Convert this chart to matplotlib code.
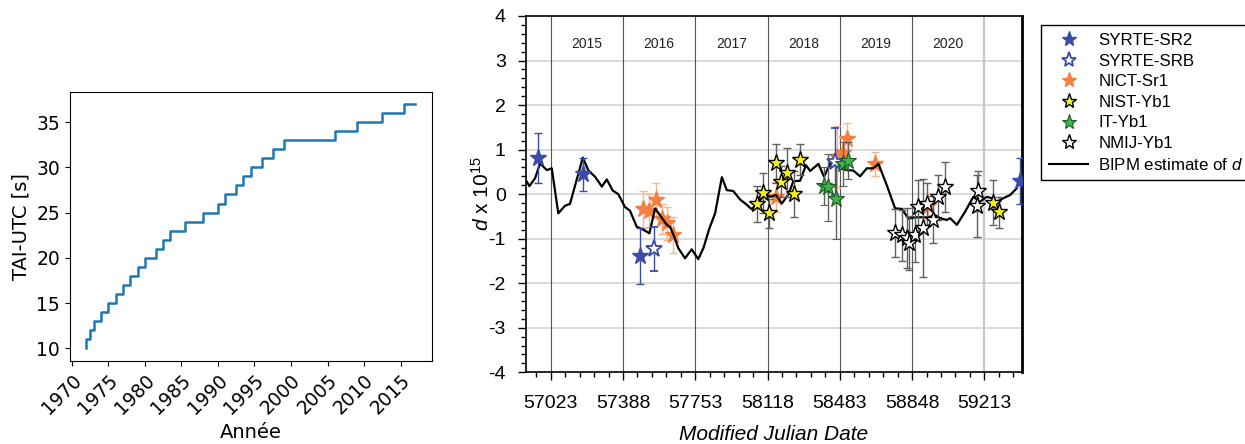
import numpy as np
import matplotlib.pyplot as plt
from matplotlib.lines import Line2D
from matplotlib.ticker import FixedLocator, MultipleLocator

# --- left panel: TAI-UTC leap seconds ---
leap_year = [1972.0, 1972.5, 1973.0, 1974.0, 1975.0, 1976.0, 1977.0, 1978.0, 1979.0,
             1980.0, 1981.5, 1982.5, 1983.5, 1985.5, 1988.0, 1990.0, 1991.0, 1992.5,
             1993.5, 1994.5, 1996.0, 1997.5, 1999.0, 2006.0, 2009.0, 2012.5, 2015.5, 2017.0]
tai_utc = list(range(10, 38))

# --- right panel: d x 1e15 vs MJD ---
mjd_ticks = [57023, 57388, 57753, 58118, 58483, 58848, 59213]
year_names = ['2015', '2016', '2017', '2018', '2019', '2020']

bipm_mjd = [56902, 56915, 56944, 56969, 57003, 57028, 57061, 57095, 57120, 57185, 57213,
            57247, 57281, 57306, 57336, 57364, 57398, 57423, 57457, 57491, 57521, 57550,
            57579, 57609, 57626, 57646, 57667, 57701, 57735, 57768, 57794, 57824, 57853,
            57887, 57912, 57945, 57979, 58013, 58038, 58072, 58105, 58131, 58161, 58190,
            58223, 58248, 58282, 58312, 58333, 58375, 58403, 58437, 58459, 58484, 58518,
            58551, 58585, 58619, 58652, 58678, 58720, 58762, 58796, 58829, 58863, 58930,
            58964, 58989, 59023, 59040, 59074, 59116, 59157, 59191, 59225, 59250, 59276,
            59309, 59343, 59376]
bipm_d = [0.28, 0.18, 0.36, 0.69, 0.54, 0.58, -0.43, -0.26, -0.22, 0.82, 0.53,
          0.39, 0.17, 0.33, 0.08, 0.0, -0.29, -0.37, -0.73, -0.80, -0.88, -0.32,
          -0.50, -0.69, -0.74, -0.95, -1.21, -1.44, -1.24, -1.46, -1.21, -0.77, -0.43,
          0.38, 0.09, 0.07, -0.12, -0.24, -0.34, -0.18, 0.0, -0.06, -0.02, -0.21,
          -0.01, 0.29, 0.30, 0.65, 0.52, 0.68, 0.39, 0.71, 0.80, 0.58, 0.54,
          0.53, 0.40, 0.58, 0.58, 0.68, 0.20, -0.32, -0.33, -0.55, -0.52, -0.52,
          -0.47, -0.54, -0.58, -0.54, -0.69, -0.39, -0.06, -0.17, -0.06, -0.09, -0.17,
          -0.09, -0.02, 0.13]

sr2_mjd = [56960, 57188, 57474, 59393]
sr2_d = [0.81, 0.45, -1.39, 0.30]
sr2_err = [0.57, 0.37, 0.62, 0.52]

srb_mjd = [57546, 58459]
srb_d = [-1.23, 0.73]
srb_err = [0.49, 0.75]

nict_mjd = [57488, 57519, 57553, 57584, 57609, 57642, 58159, 58467, 58498, 58518, 58661, 58929]
nict_d = [-0.34, -0.37, -0.13, -0.56, -0.65, -0.92, -0.06, 0.84, 0.92, 1.23, 0.68, -0.27]
nict_err = [0.42, 0.37, 0.39, 0.33, 0.37, 0.40, 0.33, 0.70, 0.35, 0.36, 0.27, 0.30]

nist_mjd = [58066, 58097, 58127, 58159, 58186, 58218, 58252, 58282, 59258, 59287]
nist_d = [-0.22, 0.02, -0.43, 0.69, 0.28, 0.48, 0.0, 0.77, -0.19, -0.41]
nist_err = [0.40, 0.45, 0.33, 0.44, 0.35, 0.55, 0.52, 0.35, 0.50, 0.34]

it_mjd = [58403, 58425, 58464, 58501, 58526]
it_d = [0.18, 0.15, -0.11, 0.68, 0.75]
it_err = [0.43, 0.75, 0.90, 0.50, 0.42]

nmij_mjd = [58762, 58796, 58824, 58834, 58863, 58880, 58902, 58925, 58952, 58980, 59014, 59174, 59182]
nmij_d = [-0.87, -0.92, -0.99, -1.10, -0.92, -0.28, -0.76, -0.22, -0.57, -0.07, 0.17, -0.27, 0.07]
nmij_err = [0.54, 0.57, 0.67, 0.60, 0.60, 0.60, 1.10, 0.48, 0.52, 0.50, 0.56, 0.70, 0.45]

plt.rcParams['mathtext.fontset'] = 'custom'
plt.rcParams['mathtext.rm'] = 'Liberation Sans'
plt.rcParams['mathtext.it'] = 'Liberation Sans:italic'

fig = plt.figure(figsize=(12.45, 4.44), dpi=100)

# left panel
ax1 = fig.add_axes([0.0562, 0.1876, 0.2905, 0.6059])
ax1.plot(leap_year, tai_utc, drawstyle='steps-pre', color='#1f77b4', linewidth=1.8)
ax1.set_xticks(np.arange(1970, 2016, 5))
ax1.set_yticks([10, 15, 20, 25, 30, 35])
ax1.tick_params(labelsize=13.5)
for lab in ax1.get_xticklabels():
    lab.set_rotation(45)
    lab.set_ha('right')
    lab.set_rotation_mode('anchor')
ax1.set_xlabel('Année', fontsize=14)
ax1.set_ylabel('TAI-UTC [s]', fontsize=14)

# right panel (plain hyphen minus like the original figure)
plt.rcParams['axes.unicode_minus'] = False
ax2 = fig.add_axes([0.4225, 0.1615, 0.3984, 0.8025])
ax2.set_xlim(56898, 59403)
ax2.set_ylim(-4, 4)

for y in range(-3, 4):
    ax2.axhline(y, color='#d9d9d9', linewidth=1.4, zorder=0)
for t in mjd_ticks[:-1]:
    ax2.axvline(t, color='#555555', linewidth=0.8, zorder=0.5)
ax2.axvline(mjd_ticks[-1], color='#c8c8c8', linewidth=1.6, zorder=0.5)

for i, name in enumerate(year_names):
    ax2.text((mjd_ticks[i] + mjd_ticks[i + 1]) / 2, 3.36, name, ha='center', va='center',
             fontsize=10, family='Liberation Sans', color='#222222')

blue = '#3b4ba8'
orange = '#f47f40'
ecol = '#606060'
ms = 12.5

ax2.plot(bipm_mjd, bipm_d, color='black', linewidth=1.6, zorder=3)

series = [
    (sr2_mjd, sr2_d, sr2_err, dict(mfc=blue, mec=blue, mew=1), blue, 4, 'SYRTE-SR2'),
    (srb_mjd, srb_d, srb_err, dict(mfc='white', mec=blue, mew=1.3), blue, 4, 'SYRTE-SRB'),
    (nict_mjd, nict_d, nict_err, dict(mfc=orange, mec=orange, mew=1), '#f8b48c', 2, 'NICT-Sr1'),
    (nist_mjd, nist_d, nist_err, dict(mfc='#f4f01a', mec='black', mew=1), ecol, 4, 'NIST-Yb1'),
    (it_mjd, it_d, it_err, dict(mfc='#3db54a', mec='#1e5a22', mew=0.8), ecol, 4, 'IT-Yb1'),
    (nmij_mjd, nmij_d, nmij_err, dict(mfc='white', mec='black', mew=1), ecol, 4, 'NMIJ-Yb1'),
]
handles = []
for xs, ys, es, mstyle, ec, z, name in series:
    ax2.errorbar(xs, ys, yerr=es, fmt='*', ms=ms, ecolor=ec, elinewidth=1, capsize=3,
                 zorder=z, **mstyle)
    handles.append(Line2D([], [], linestyle='none', marker='*', ms=11, **mstyle))
handles.append(Line2D([], [], color='black', linewidth=1.5))
labels = [s[-1] for s in series] + ['BIPM estimate of $d$']

ax2.xaxis.set_major_locator(FixedLocator(mjd_ticks))
ax2.xaxis.set_minor_locator(MultipleLocator(73, offset=10))
ax2.yaxis.set_major_locator(MultipleLocator(1))
ax2.yaxis.set_minor_locator(MultipleLocator(0.2))
ax2.tick_params(which='major', length=5.5, width=1, pad=11, labelsize=14)
ax2.tick_params(axis='y', which='major', pad=9)
ax2.tick_params(which='minor', length=3.5, width=1)
for lab in ax2.get_xticklabels() + ax2.get_yticklabels():
    lab.set_family('Liberation Sans')
for side in ['left', 'bottom', 'top']:
    ax2.spines[side].set_linewidth(1.2)
ax2.spines['right'].set_linewidth(2)

ax2.set_xlabel('Modified Julian Date', fontsize=15, style='italic', family='Liberation Sans', labelpad=9)
ax2.set_ylabel('$d$ x 10$^{15}$', fontsize=15, family='Liberation Sans')
ax2.yaxis.set_label_coords(-0.066, 0.5)

leg = fig.legend(handles, labels, loc='upper left', bbox_to_anchor=(0.8297, 0.9617),
                 fancybox=False, edgecolor='black', framealpha=1,
                 prop={'family': 'Liberation Sans', 'size': 12.2}, labelspacing=0.33,
                 handlelength=2.3, handletextpad=0.6, borderpad=0.45)
leg.get_frame().set_linewidth(1)

fig.savefig('out.png', dpi=100)
